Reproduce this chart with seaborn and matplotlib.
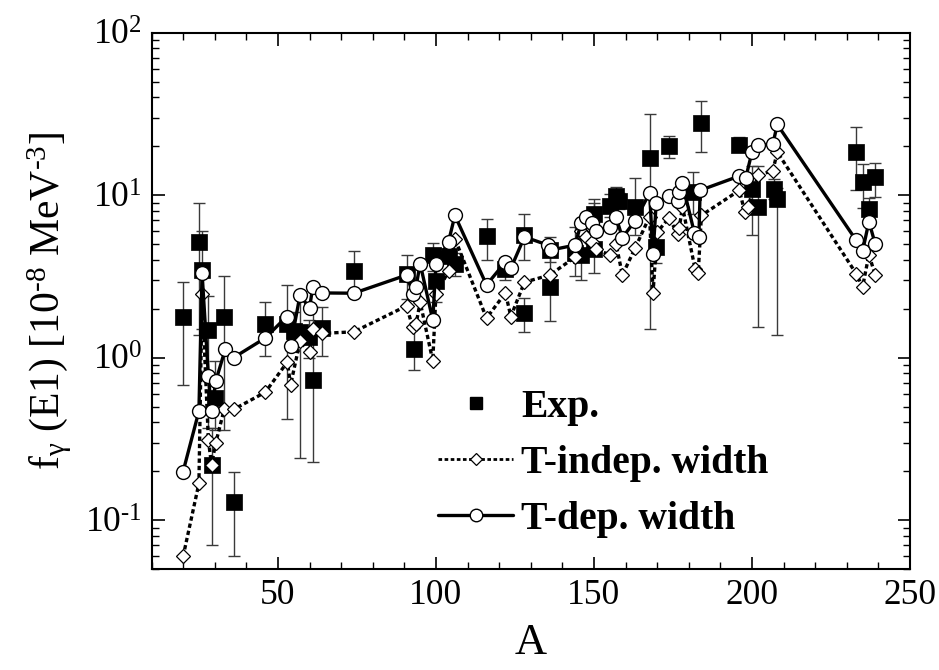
import numpy as np
import pandas as pd
import matplotlib
matplotlib.use("Agg")
import matplotlib.pyplot as plt
import seaborn as sns
from matplotlib.lines import Line2D
from matplotlib.ticker import MultipleLocator, LogLocator, NullFormatter, FuncFormatter

# ---------------- data ----------------
exp_A = [20, 25, 26, 28, 29, 30, 33, 36, 46, 53, 55, 57, 59.7, 61, 64, 74,
         91, 93, 99, 100, 104, 106, 116, 122, 128, 128, 136, 136, 144, 146,
         150, 150, 155, 157, 158, 163, 167.6, 169.7, 173.7, 181.3, 184, 196,
         200, 202, 207, 208, 233, 235, 237, 239]
exp_val = [1.79, 5.13, 3.48, 1.48, 0.217, 0.567, 1.79, 0.129, 1.60, 1.60, 1.46, 1.43, 1.33, 0.73, 1.52, 3.42,
           3.25, 1.13, 4.3, 2.94, 4.19, 3.78, 5.58, 3.51, 1.88, 5.68, 2.72, 4.6, 4.4, 4.3,
           4.63, 7.7, 8.6, 9.9, 9.2, 8.4, 16.8, 4.76, 20.1, 10.4, 27.9, 20.3,
           10.9, 8.5, 10.9, 9.4, 18.4, 12.1, 8.2, 12.9]
exp_lo = [0.68, 1.37, 1.5, 0.37, 0.07, 0.36, 0.36, 0.06, 1.02, 0.42, 1.1, 0.24, 1.0, 0.228, 1.02, 2.52,
          2.3, 0.84, 3.4, 2.2, 3.5, 3.2, 4.0, 3.0, 1.43, 4.0, 1.68, 3.9, 3.17, 3.0,
          3.33, 6.5, 7.3, 8.6, 8.2, 5.7, 1.5, 3.8, 16.8, 7.7, 18.4, 19.1,
          5.7, 1.54, 9.5, 1.37, 10.7, 8.3, 6.9, 9.7]
exp_hi = [2.9, 8.95, 6.0, 2.4, 0.37, 0.95, 3.2, 0.198, 2.19, 2.79, 1.9, 2.52, 1.7, 2.06, 2.04, 4.56,
          4.3, 1.52, 5.1, 3.9, 5.0, 4.4, 7.1, 4.1, 2.34, 7.7, 4.4, 5.5, 6.4, 5.7,
          9.4, 9.0, 10.1, 11.2, 10.3, 12.7, 31.7, 5.9, 23.2, 13.8, 37.8, 22.8,
          15.2, 15.2, 12.5, 11.0, 26.2, 15.6, 9.6, 15.8]

tind_A = [20, 25, 26, 28, 29, 30.3, 33, 36, 46, 53, 54, 57, 60, 61, 64, 74,
          90.7, 92.6, 93.7, 95, 99, 100, 104, 106, 116, 122, 123.7, 128, 136, 144,
          146, 147.6, 149.5, 150.5, 155, 157, 159, 163, 167.6, 168.7, 170, 173.7,
          176.6, 177, 178, 182, 183, 184, 196, 197.7, 198.7, 202, 206.6, 208,
          233, 235, 237, 239]
tind_val = [0.0597, 0.168, 2.46, 0.309, 0.219, 0.297, 0.48, 0.48, 0.612, 0.94, 0.678, 1.26, 1.08, 1.51, 1.41, 1.44,
            2.08, 1.54, 1.6, 2.2, 0.955, 2.46, 3.4, 5.4, 1.75, 2.50, 1.79, 2.91, 3.22, 4.15,
            6.0, 5.5, 5.13, 4.63, 4.30, 5.0, 3.22, 4.71, 7.38, 2.50, 5.91, 7.22,
            5.76, 6.28, 8.5, 3.51, 3.33, 7.5, 10.7, 7.9, 8.5, 13.3, 14.1, 18.4,
            3.28, 2.72, 4.30, 3.22]

tdep_A = [20, 25, 26, 28, 29, 30.3, 33.4, 36, 46, 52.8, 54, 57, 60, 61, 64, 74,
          90.7, 92.8, 93.7, 95, 99, 100, 104, 106, 116, 122, 123.7, 128, 135.5, 136.5, 144,
          146, 147.6, 149.5, 150.5, 155, 157, 159, 163, 167.6, 168.7, 169.7, 173.7,
          176.6, 177, 178, 181.8, 183.2, 183.6, 196, 198, 200, 202, 206.6, 208,
          233, 235, 237, 239]
tdep_val = [0.199, 0.468, 3.33, 0.769, 0.468, 0.713, 1.135, 1.0, 1.32, 1.79, 1.18, 2.43, 2.01, 2.71, 2.50, 2.49,
            3.22, 2.46, 2.72, 3.79, 1.70, 3.75, 5.18, 7.5, 2.8, 3.88, 3.54, 5.53, 4.92, 4.6, 4.92,
            6.78, 7.38, 6.78, 5.97, 6.34, 7.31, 5.47, 6.95, 10.3, 4.36, 8.95, 9.9,
            9.18, 10.4, 11.8, 5.82, 5.53, 10.7, 13.1, 12.7, 18.4, 20.3, 20.6, 27.2,
            5.26, 4.52, 6.87, 5.0]

x_ticks = [50, 100, 150, 200, 250]
labels = ["Exp.", "T-indep. width", "T-dep. width"]

# ---------------- style ----------------
sns.set_style("ticks")
plt.rcParams.update({
    "font.family": ["Liberation Serif", "DejaVu Serif"],
    "mathtext.fontset": "custom",
    "mathtext.rm": "Liberation Serif",
    "mathtext.it": "Liberation Serif:italic",
    "mathtext.bf": "Liberation Serif:bold",
    "xtick.direction": "in", "ytick.direction": "in",
    "xtick.top": True, "ytick.right": True,
    "axes.linewidth": 1.5,
    "text.color": "black", "axes.labelcolor": "black",
    "xtick.color": "black", "ytick.color": "black",
    "axes.unicode_minus": False,
})

fig = plt.figure(figsize=(9.39, 6.70), dpi=100)
ax = fig.add_axes([151.5 / 939, 1 - 569 / 670, (910 - 151.5) / 939, (569 - 32.6) / 670])

exp_df = pd.DataFrame({"A": exp_A, "v": exp_val, "lo": exp_lo, "hi": exp_hi})
ind_df = pd.DataFrame({"A": tind_A, "v": tind_val})
dep_df = pd.DataFrame({"A": tdep_A, "v": tdep_val})

ax.errorbar(exp_df["A"], exp_df["v"],
            yerr=[exp_df["v"] - exp_df["lo"], exp_df["hi"] - exp_df["v"]],
            fmt="none", ecolor="#3a3a3a", elinewidth=1.0, capsize=4, capthick=1.0, zorder=1)

sns.scatterplot(data=exp_df, x="A", y="v", marker="s", s=130, color="black",
                edgecolor="black", linewidth=0.5, ax=ax, zorder=3, legend=False)

dash = (0, (1.3, 0.9))
sns.lineplot(data=ind_df, x="A", y="v", estimator=None, sort=False, ax=ax,
             color="black", linewidth=2.4, linestyle=dash, marker="D", markersize=7,
             markerfacecolor="white", markeredgecolor="black", markeredgewidth=0.9, zorder=4)
sns.lineplot(data=dep_df, x="A", y="v", estimator=None, sort=False, ax=ax,
             color="black", linewidth=2.4, linestyle="-", marker="o", markersize=10,
             markerfacecolor="white", markeredgecolor="black", markeredgewidth=1.0, zorder=5)

ax.set_yscale("log")
ax.set_xlim(10, 250)
ax.set_ylim(0.05, 100)
ax.set_xticks(x_ticks)
ax.xaxis.set_minor_locator(MultipleLocator(10))
ax.yaxis.set_major_locator(LogLocator(base=10, numticks=10))
ax.yaxis.set_minor_locator(LogLocator(base=10, subs=np.arange(2, 10), numticks=20))
ax.yaxis.set_minor_formatter(NullFormatter())


def decade_fmt(v, pos):
    e = int(round(np.log10(v)))
    s = str(e).replace("-", "\u2010")
    return r"10$^{\mathrm{" + s + "}}$"


ax.yaxis.set_major_formatter(FuncFormatter(decade_fmt))
ax.tick_params(which="major", length=9, width=1.2, labelsize=25.5, pad=7)
ax.tick_params(which="minor", length=5, width=1.0)
for s in ax.spines.values():
    s.set_color("black")

ax.set_xlabel("A", fontsize=32, labelpad=8)
ax.set_ylabel("f$_{\\mathrm{γ}}$ (E1) [10$^{\\mathrm{\u20108}}$ MeV$^{\\mathrm{\u20103}}$]",
              fontsize=30, labelpad=8)

handles = [
    Line2D([], [], marker="s", ls="none", color="black", ms=8.5),
    Line2D([], [], marker="D", ls=dash, lw=2.0, color="black", mfc="white", mec="black", ms=6.5, mew=0.9),
    Line2D([], [], marker="o", ls="-", lw=2.4, color="black", mfc="white", mec="black", ms=9, mew=1.0),
]
ax.legend(handles, labels, loc="upper left", bbox_to_anchor=(0.378, 0.336), frameon=False,
          prop={"weight": "bold", "size": 28.5}, handlelength=1.9, handletextpad=0.2,
          labelspacing=0.48, borderaxespad=0, borderpad=0)

fig.savefig("out.png", dpi=100)
